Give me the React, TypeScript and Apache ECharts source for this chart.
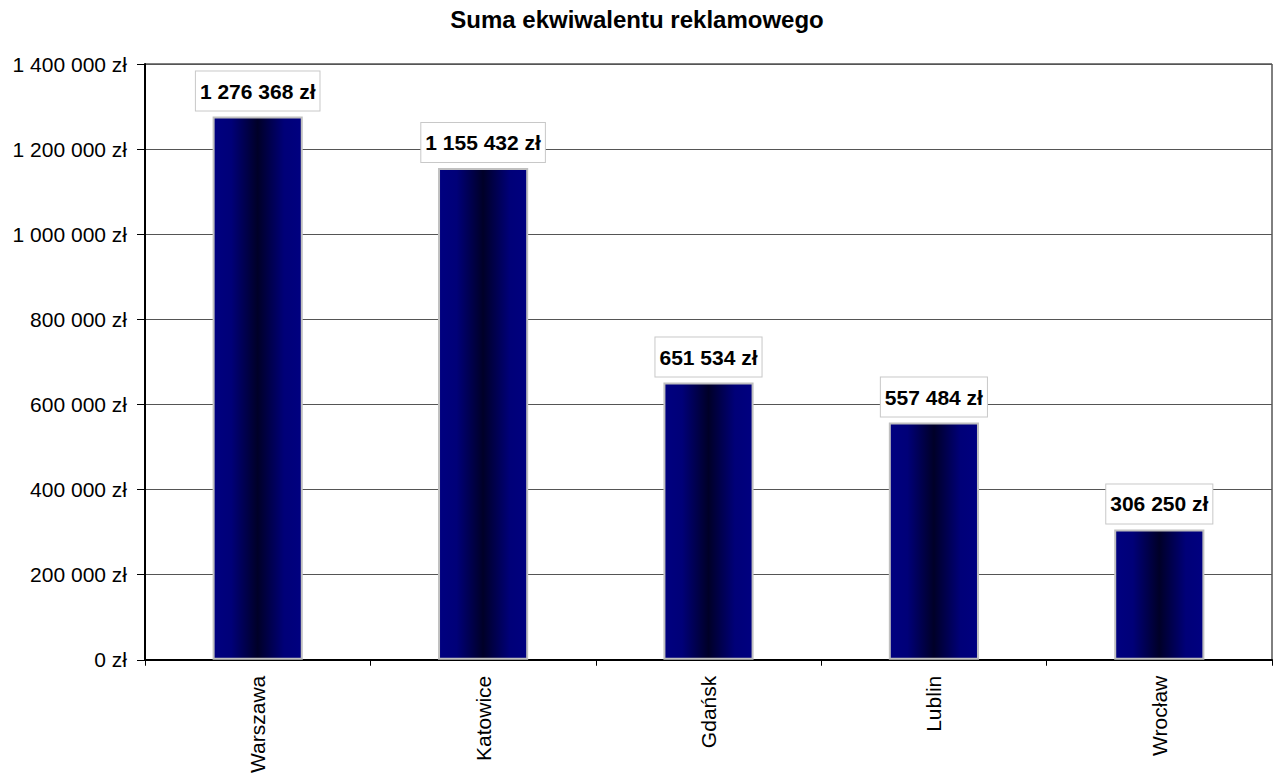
import React, { useEffect, useRef } from "react";
import * as echarts from "echarts";

const titleText = "Suma ekwiwalentu reklamowego";
const categories = ["Warszawa", "Katowice", "Gdańsk", "Lublin", "Wrocław"];
const values = [1276368, 1155432, 651534, 557484, 306250];
const yMin = 0;
const yMax = 1400000;
const yStep = 200000;

const fmt = (v: number) =>
  String(Math.round(v)).replace(/\B(?=(\d{3})+(?!\d))/g, " ") + " zł";

const FONT = "'Liberation Sans', Arial, sans-serif";

export default function App() {
  const ref = useRef<HTMLDivElement>(null);
  useEffect(() => {
    if (!ref.current) return;
    const chart = echarts.init(ref.current, undefined, { renderer: "svg" });
    chart.setOption({
      animation: false,
      backgroundColor: "#ffffff",
      title: {
        text: titleText,
        left: "center",
        top: 7,
        padding: 0,
        textStyle: { fontFamily: FONT, fontSize: 24, fontWeight: "bold", color: "#000" },
      },
      grid: {
        left: 145,
        right: 2,
        top: 64,
        bottom: 115,
        show: true,
        borderColor: "#000",
        borderWidth: 1,
        containLabel: false,
      },
      xAxis: {
        type: "category",
        data: categories,
        axisLine: { lineStyle: { color: "#000", width: 2 } },
        axisTick: { show: true, length: 6, lineStyle: { color: "#000", width: 1 } },
        axisLabel: {
          rotate: 90,
          margin: 16,
          fontFamily: FONT,
          fontSize: 21,
          color: "#000",
        },
        splitLine: { show: false },
      },
      yAxis: {
        type: "value",
        min: yMin,
        max: yMax,
        interval: yStep,
        axisLine: { show: true, lineStyle: { color: "#000", width: 2 } },
        axisTick: { show: true, length: 8, lineStyle: { color: "#000", width: 1 } },
        axisLabel: {
          margin: 18,
          fontFamily: FONT,
          fontSize: 21,
          color: "#000",
          formatter: (v: number) => fmt(v),
        },
        splitLine: { show: true, lineStyle: { color: "#555", width: 1 } },
      },
      series: [
        {
          type: "bar",
          data: values,
          barWidth: "40%",
          itemStyle: {
            color: new echarts.graphic.LinearGradient(0, 0, 1, 0, [
              { offset: 0, color: "#000080" },
              { offset: 0.2, color: "#000078" },
              { offset: 0.5, color: "#000028" },
              { offset: 0.8, color: "#000078" },
              { offset: 1, color: "#000080" },
            ]),
            borderColor: "#c0c0c0",
            borderWidth: 2,
          },
          label: {
            show: true,
            position: "top",
            distance: 6,
            formatter: (p: any) => fmt(p.value),
            fontFamily: FONT,
            fontSize: 21,
            fontWeight: "bold",
            color: "#000",
            backgroundColor: "#fff",
            borderColor: "#c8c8c8",
            borderWidth: 1,
            padding: [9, 4],
          },
        },
      ],
    });
    return () => chart.dispose();
  }, []);
  return (
    <div
      ref={ref}
      style={{ position: "fixed", left: 0, top: 0, width: 1274, height: 776 }}
    />
  );
}
